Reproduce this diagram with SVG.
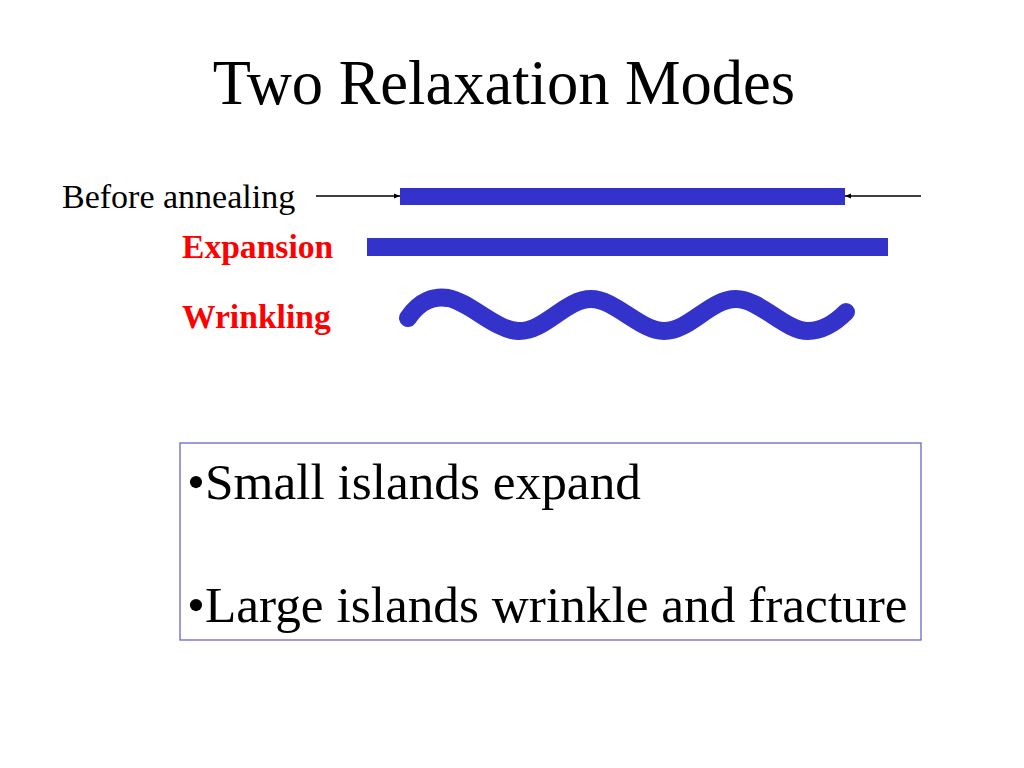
<svg xmlns="http://www.w3.org/2000/svg" width="1024" height="768" viewBox="0 0 1024 768">
<style>
.serif{font-family:"Liberation Serif","Times New Roman",serif;}
.lab{font-size:33.6px;font-weight:bold;fill:#ff0000;}
.bar{fill:#3333cc;}
.conn{stroke:#000;stroke-width:1.3;fill:none;marker-end:url(#ah);}
</style>
<defs>
<marker id="ah" viewBox="0 0 10 10" refX="10" refY="5" markerWidth="6" markerHeight="6" orient="auto" markerUnits="userSpaceOnUse">
<path d="M0,1 L10,5 L0,9 Z" fill="#000"/>
</marker>
</defs>
<rect width="1024" height="768" fill="#fff"/>
<text class="serif" x="504" y="104" font-size="62.5" text-anchor="middle" fill="#000">Two Relaxation Modes</text>
<g id="before">
<text class="serif" x="62" y="208" font-size="34" fill="#000">Before annealing</text>
<rect class="bar" x="400" y="188" width="445" height="17"/>
</g>
<g id="expansion">
<text class="serif lab" x="182" y="258">Expansion</text>
<rect class="bar" x="367" y="238" width="521" height="18"/>
</g>
<g id="wrinkling">
<text class="serif lab" x="182" y="328">Wrinkling</text>
<path d="M408,318 C420,300 435,296 448,298 C470,302 495,330 518,331 C545,332 565,299 591,299 C615,299 640,331 664,331 C690,331 710,299 736,299 C760,299 785,331 808,331 C825,331 838,320 846,312" fill="none" stroke="#3333cc" stroke-width="18" stroke-linecap="round" stroke-linejoin="round"/>
</g>
<g id="connectors">
<line class="conn" x1="316" y1="196" x2="400" y2="196"/>
<line class="conn" x1="921" y1="196" x2="845" y2="196"/>
</g>
<g id="summary">
<rect x="180" y="443" width="741" height="197" fill="#fff" stroke="#6666cc" stroke-width="1.3"/>
<text class="serif" x="187" y="499" font-size="51.3" fill="#000">•Small islands expand</text>
<text class="serif" x="187" y="622" font-size="51.3" fill="#000">•Large islands wrinkle and fracture</text>
</g>
</svg>
